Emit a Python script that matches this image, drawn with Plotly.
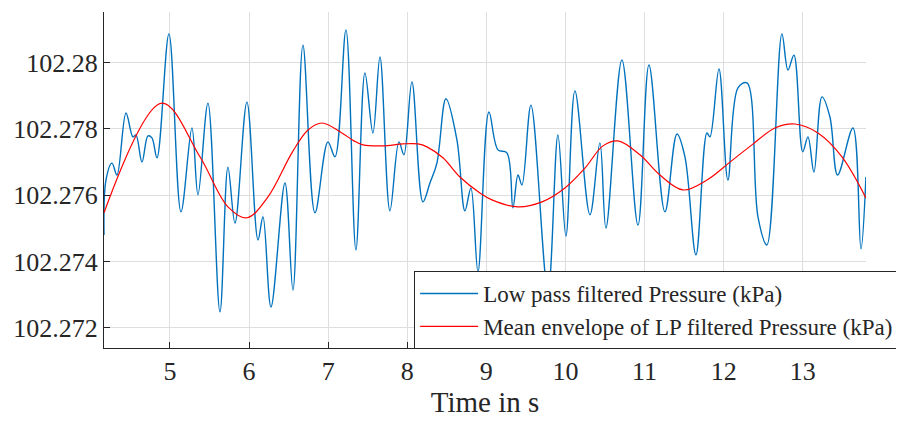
import plotly.graph_objects as go

# Low pass filtered pressure, key points (s, kPa)
t_lp = [4.166, 4.191, 4.267, 4.330, 4.444, 4.532, 4.570, 4.646, 4.722, 4.772,
        4.836, 4.987, 5.139, 5.278, 5.354, 5.480, 5.632, 5.733, 5.822, 5.973,
        6.113, 6.176, 6.277, 6.454, 6.555, 6.681, 6.833, 6.997, 7.086, 7.225,
        7.351, 7.465, 7.566, 7.655, 7.781, 7.895, 7.958, 8.059, 8.198, 8.287,
        8.375, 8.489, 8.628, 8.729, 8.805, 8.894, 9.033, 9.147, 9.260, 9.336,
        9.400, 9.450, 9.564, 9.779, 9.905, 10.006, 10.120, 10.310, 10.436, 10.512,
        10.714, 10.917, 11.056, 11.258, 11.410, 11.511, 11.650, 11.789, 11.827, 11.941,
        12.054, 12.181, 12.295, 12.434, 12.547, 12.737, 12.813, 12.889, 13.000, 13.066,
        13.142, 13.243, 13.344, 13.441, 13.635, 13.736, 13.799]
p_lp = [102.27480, 102.27646, 102.27697, 102.27661, 102.27848, 102.27776, 102.27782, 102.27700, 102.27779, 102.27773,
        102.27713, 102.28087, 102.27550, 102.27803, 102.27601, 102.27878, 102.27248, 102.27685, 102.27516, 102.27881,
        102.27465, 102.27535, 102.27263, 102.27637, 102.27314, 102.28053, 102.27547, 102.27761, 102.27716, 102.28099,
        102.27435, 102.27969, 102.27788, 102.28017, 102.27553, 102.27761, 102.27722, 102.27942, 102.27580, 102.27637,
        102.27697, 102.27891, 102.27767, 102.27553, 102.27622, 102.27369, 102.27851, 102.27737, 102.27728, 102.27562,
        102.27661, 102.27631, 102.27872, 102.27308, 102.27782, 102.27477, 102.27915, 102.27541, 102.27758, 102.27501,
        102.28008, 102.27510, 102.27993, 102.27550, 102.27785, 102.27716, 102.27420, 102.27788, 102.27776, 102.27981,
        102.27646, 102.27924, 102.27939, 102.27535, 102.27450, 102.28087, 102.27978, 102.28023, 102.27731, 102.27776,
        102.27670, 102.27897, 102.27836, 102.27661, 102.27803, 102.27438, 102.27655]

# Mean envelope
t_env = [4.166, 4.899, 5.379, 5.733, 5.973, 6.239, 6.542, 6.745, 6.922, 7.174,
         7.326, 7.440, 7.693, 7.946, 8.135, 8.249, 8.451, 8.666, 8.919, 9.071,
         9.400, 9.703, 9.994, 10.247, 10.474, 10.664, 10.942, 11.195, 11.486, 11.789,
         12.080, 12.358, 12.649, 12.901, 13.192, 13.496, 13.799]
p_env = [102.27547, 102.27878, 102.27716, 102.27565, 102.27532, 102.27595, 102.27728, 102.27797, 102.27818, 102.27788,
         102.27764, 102.27752, 102.27749, 102.27755, 102.27755, 102.27746, 102.27713, 102.27655, 102.27607, 102.27586,
         102.27565, 102.27580, 102.27622, 102.27682, 102.27749, 102.27764, 102.27722, 102.27661, 102.27616, 102.27646,
         102.27700, 102.27752, 102.27803, 102.27815, 102.27788, 102.27716, 102.27592]

x_ticks = [5, 6, 7, 8, 9, 10, 11, 12, 13]
y_ticks = [102.272, 102.274, 102.276, 102.278, 102.28]
y_labels = ["102.272", "102.274", "102.276", "102.278", "102.28"]

fig = go.Figure()
fig.add_trace(go.Scatter(x=t_lp, y=p_lp, mode="lines", name="Low pass filtered Pressure (kPa)",
                         line=dict(color="#0072BD", width=1.4, shape="spline")))
fig.add_trace(go.Scatter(x=t_env, y=p_env, mode="lines", name="Mean envelope of LP filtered Pressure (kPa)",
                         line=dict(color="#FF0000", width=1.2, shape="spline")))

# the page body has an 8px margin, so the figure is drawn 8px smaller
axis_font = dict(family="Liberation Serif", size=26, color="#262626")
fig.update_layout(
    width=896, height=413,
    margin=dict(l=96, r=38, t=4, b=73, autoexpand=False),
    paper_bgcolor="white", plot_bgcolor="white",
    font=dict(family="Liberation Serif", color="#262626"),
    xaxis=dict(range=[4.166, 13.80], tickvals=x_ticks, tickfont=axis_font,
               ticks="inside", ticklen=6, tickcolor="#262626",
               showline=True, linecolor="#262626", linewidth=1,
               showgrid=True, gridcolor="#dedede", gridwidth=1, zeroline=False,
               title=dict(text="Time in s", font=dict(family="Liberation Serif", size=29, color="#262626"),
                          standoff=4)),
    yaxis=dict(range=[102.27139, 102.28153], tickvals=y_ticks, ticktext=y_labels, tickfont=axis_font,
               ticks="inside", ticklen=6, tickcolor="#262626",
               showline=True, linecolor="#262626", linewidth=1,
               showgrid=True, gridcolor="#dedede", gridwidth=1, zeroline=False),
    legend=dict(x=0.407, y=-0.003, xanchor="left", yanchor="bottom",
                bgcolor="white", bordercolor="#262626", borderwidth=1,
                font=dict(family="Liberation Serif", size=23, color="#262626"),
                itemwidth=58, tracegroupgap=0),
    showlegend=True,
)

fig.write_html("out.html")
